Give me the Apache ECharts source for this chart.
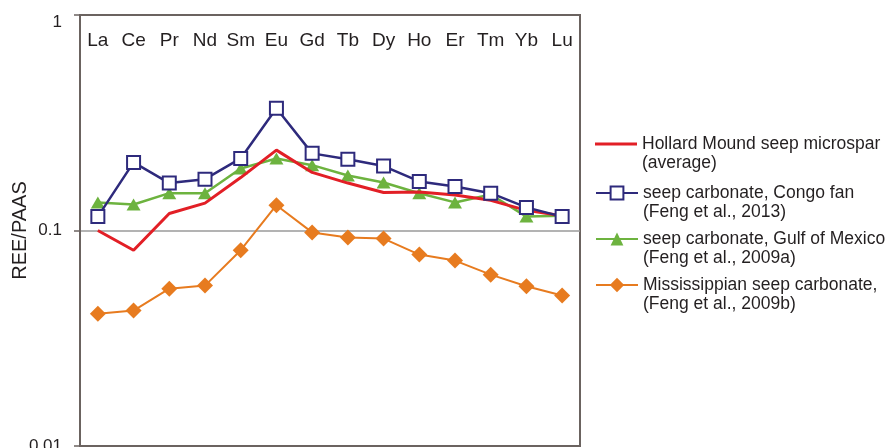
<!DOCTYPE html>
<html>
<head>
<meta charset="utf-8">
<script src="https://cdn.jsdelivr.net/npm/echarts@6/dist/echarts.min.js"></script>
<style>html,body{margin:0;padding:0;background:#fff}#c{width:896px;height:448px}</style>
</head>
<body>
<div id="c"></div>
<script>
const categories = ['La','Ce','Pr','Nd','Sm','Eu','Gd','Tb','Dy','Ho','Er','Tm','Yb','Lu'];
const hollard = [0.100,0.081,0.120,0.134,0.176,0.236,0.186,0.166,0.150,0.151,0.146,0.138,0.124,0.117];
const congo = [0.116,0.207,0.166,0.173,0.216,0.369,0.228,0.214,0.199,0.169,0.160,0.149,0.128,0.116];
const gulf = [0.135,0.132,0.149,0.149,0.194,0.216,0.201,0.180,0.167,0.149,0.135,0.147,0.116,0.117];
const mississippian = [0.0411,0.0425,0.0537,0.0555,0.081,0.131,0.098,0.0928,0.0917,0.0773,0.0725,0.0624,0.0551,0.0499];
const yTicks = [0.01, 0.1, 1];
const names = [
  'Hollard Mound seep microspar\n(average)',
  'seep carbonate, Congo fan\n(Feng et al., 2013)',
  'seep carbonate, Gulf of Mexico\n(Feng et al., 2009a)',
  'Mississippian seep carbonate,\n(Feng et al., 2009b)'
];

const RED = '#e21f26', NAVY = '#2e2a7c', GREEN = '#6db33f', ORANGE = '#e77b1f';
const AX = '#6b6360', TXT = '#231f20';
const FONT = 'Liberation Sans, Arial, sans-serif';

function legendFor(name, top, opts) {
  return Object.assign({
    data: [name], left: 595, top: top, padding: 0, orient: 'vertical',
    itemWidth: 42, itemHeight: 16, selectedMode: false,
    formatter: function (n) { return '\n' + n; },
    textStyle: { fontFamily: FONT, fontSize: 17.5, color: TXT, lineHeight: 19 }
  }, opts || {});
}

const chart = echarts.init(document.getElementById('c'));
chart.setOption({
  animation: false,
  grid: { left: 80, top: 15, width: 500, height: 431, outerBoundsMode: 'none', containLabel: false,
          show: true, borderColor: AX, borderWidth: 2, backgroundColor: 'transparent' },
  legend: [
    legendFor(names[0], 115.5, { icon: 'rect', itemHeight: 3 }),
    legendFor(names[1], 164.5),
    legendFor(names[2], 210.5),
    legendFor(names[3], 256.5, { itemHeight: 18 })
  ],
  xAxis: [
    {
      type: 'category', data: categories, position: 'top', boundaryGap: true,
      axisLine: { lineStyle: { color: AX, width: 2 } },
      axisTick: { inside: true, length: 6, lineStyle: { color: AX, width: 1.5 } },
      axisLabel: { inside: true, margin: 16, fontFamily: FONT, fontSize: 19, color: TXT, interval: 0 }
    },
    {
      type: 'category', data: categories, position: 'bottom', boundaryGap: true,
      axisLine: { lineStyle: { color: AX, width: 2 } },
      axisTick: { inside: true, length: 6, lineStyle: { color: AX, width: 1.5 } },
      axisLabel: { show: false }
    }
  ],
  yAxis: {
    type: 'log', logBase: 10, min: yTicks[0], max: yTicks[2],
    name: 'REE/PAAS', nameLocation: 'middle', nameGap: 50, nameRotate: 90, nameMoveOverlap: false,
    nameTextStyle: { fontFamily: FONT, fontSize: 20, color: TXT },
    axisLine: { show: true, lineStyle: { color: AX, width: 2 } },
    axisTick: { show: true, inside: false, length: 6, lineStyle: { color: AX, width: 1.5 } },
    splitLine: { show: true, lineStyle: { color: '#9a9a9a', width: 1.5 } },
    axisLabel: {
      margin: 18, fontFamily: FONT, fontSize: 17, color: TXT,
      formatter: function (v) {
        const s = String(+v.toPrecision(3));
        return Math.abs(v - yTicks[2]) < 1e-9 ? '{t|' + s + '}' : s;
      },
      rich: { t: { fontFamily: FONT, fontSize: 17, color: TXT, padding: [14, 0, 0, 0] } }
    }
  },
  series: [
    {
      name: names[3], type: 'line', data: mississippian, xAxisIndex: 0,
      symbol: 'diamond', symbolSize: 16, color: ORANGE,
      lineStyle: { color: ORANGE, width: 2 }, itemStyle: { color: ORANGE }, z: 2
    },
    {
      name: names[2], type: 'line', data: gulf, xAxisIndex: 0,
      symbol: 'triangle', symbolSize: [14, 12], color: GREEN,
      lineStyle: { color: GREEN, width: 2.5 }, itemStyle: { color: GREEN }, z: 3
    },
    {
      name: names[0], type: 'line', data: hollard, xAxisIndex: 0,
      symbol: 'none', color: RED,
      lineStyle: { color: RED, width: 3 }, itemStyle: { color: RED }, z: 4
    },
    {
      name: names[1], type: 'line', data: congo, xAxisIndex: 0,
      symbol: 'emptyRect', symbolSize: 13, color: NAVY,
      lineStyle: { color: NAVY, width: 2.5 }, itemStyle: { color: NAVY, borderWidth: 1.5 }, z: 5
    }
  ]
});
</script>
</body>
</html>
